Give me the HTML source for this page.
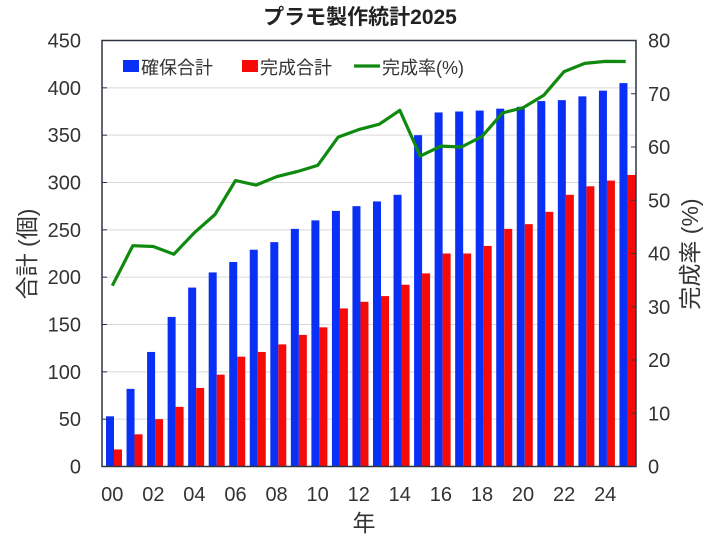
<!DOCTYPE html>
<html><head><meta charset="utf-8"><style>
body{margin:0;background:#fff;}
svg{display:block;font-family:"Liberation Sans","Noto Sans CJK JP",sans-serif;}
</style></head><body>
<svg id="c" width="720" height="540" viewBox="0 0 720 540" xmlns="http://www.w3.org/2000/svg"></svg>
<script>
const B=[53,82,121,158,189,205,216,229,237,251,260,270,275,280,287,350,374,375,376,378,380,386,387,391,397,405];
const R=[18,34,50,63,83,97,116,121,129,139,147,167,174,180,192,204,225,225,233,251,256,269,287,296,302,308];
const L=102,Rt=636,T=40.5,Bo=466.5;
const gw=(Rt-L)/26;
const y=v=>Bo-v*(Bo-T)/450, y2=v=>Bo-v*(Bo-T)/80;
let s='';
s+=`<rect x="${L}" y="${T}" width="${Rt-L}" height="${Bo-T}" fill="#fff"/>`;
for(let v=50;v<450;v+=50)s+=`<line x1="${L}" x2="${Rt}" y1="${y(v)}" y2="${y(v)}" stroke="#d9d9d9" stroke-width="1"/>`;
for(let i=0;i<26;i++){const x0=L+gw*i;
s+=`<rect x="${x0+4}" y="${y(B[i])}" width="8" height="${Bo-y(B[i])}" fill="#0a2ff5"/>`;
s+=`<rect x="${x0+12}" y="${y(R[i])}" width="8" height="${Bo-y(R[i])}" fill="#f50a0a"/>`;}
let p=[];for(let i=0;i<26;i++)p.push((L+gw*(i+0.5)).toFixed(1)+','+y2(R[i]/B[i]*100).toFixed(1));
s+=`<polyline points="${p.join(' ')}" fill="none" stroke="#0f8a0f" stroke-width="3.2" stroke-linejoin="round"/>`;
s+=`<rect x="${L}" y="${T}" width="${Rt-L}" height="${Bo-T}" fill="none" stroke="#2e3340" stroke-width="1.5"/>`;
for(let v=0;v<=450;v+=50){s+=`<line x1="${L}" x2="${L+5}" y1="${y(v)}" y2="${y(v)}" stroke="#2e3340"/>`;
s+=`<text x="81" y="${y(v)+7}" font-size="20" fill="#333" text-anchor="end">${v}</text>`;}
for(let v=0;v<=80;v+=10){s+=`<line x1="${Rt-5}" x2="${Rt}" y1="${y2(v)}" y2="${y2(v)}" stroke="#2e3340"/>`;
s+=`<text x="648" y="${y2(v)+7}" font-size="20" fill="#333">${v}</text>`;}
for(let i=0;i<26;i+=2)s+=`<text x="${L+gw*(i+0.5)}" y="501" font-size="20" fill="#333" text-anchor="middle">${String(i).padStart(2,'0')}</text>`;
s+=`<text x="360" y="24" font-size="21" font-weight="bold" fill="#222" text-anchor="middle">プラモ製作統計2025</text>`;
s+=`<text x="364" y="531" font-size="23" fill="#333" text-anchor="middle">年</text>`;
s+=`<text transform="translate(35,254) rotate(-90)" font-size="23" fill="#333" text-anchor="middle">合計 (個)</text>`;
s+=`<text transform="translate(698,254) rotate(-90)" font-size="23" fill="#333" text-anchor="middle">完成率 (%)</text>`;
s+=`<rect x="123" y="60" width="16" height="12" fill="#0a2ff5"/><text x="141" y="74" font-size="18" fill="#333">確保合計</text>`;
s+=`<rect x="242" y="60" width="16" height="12" fill="#f50a0a"/><text x="260" y="74" font-size="18" fill="#333">完成合計</text>`;
s+=`<line x1="354" x2="380" y1="66" y2="66" stroke="#0f8a0f" stroke-width="3.2"/><text x="382" y="74" font-size="18" fill="#333">完成率(%)</text>`;
document.getElementById('c').innerHTML=s;
</script>
</body></html>
